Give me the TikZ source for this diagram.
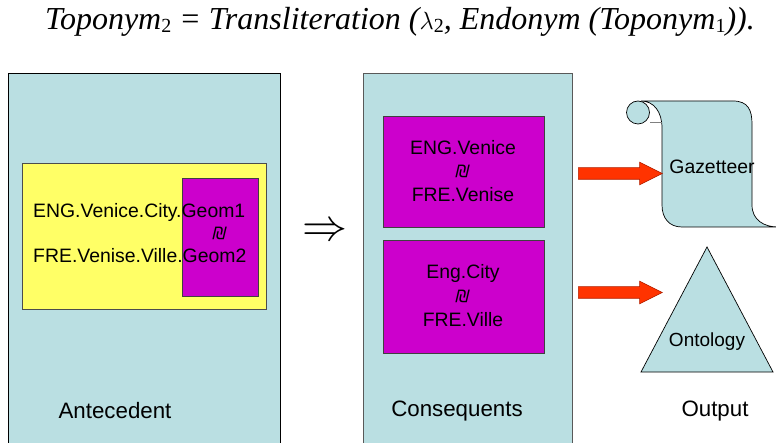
\documentclass[tikz,border=0pt]{standalone}
\usepackage{graphicx}
\usepackage{fontspec}
\setmainfont{Liberation Sans}
\newfontfamily\serifit{Liberation Serif}
\newfontfamily\symfont{DejaVu Sans}
\usetikzlibrary{shapes.arrows}
\definecolor{paneblue}{HTML}{BADFE2}
\definecolor{paneyellow}{HTML}{FFFF66}
\definecolor{panepurple}{HTML}{CC00CC}
\definecolor{arrowred}{HTML}{FF3300}
\definecolor{arrowedge}{HTML}{B02000}
\tikzset{
  panel/.style={draw=black, line width=0.9pt, fill=paneblue, anchor=north west, inner sep=0pt},
  purplebox/.style={draw=black!75, line width=0.8pt, fill=panepurple, anchor=north west, inner sep=0pt},
  label/.style={font=\fontsize{22.3}{25}\selectfont, inner sep=0pt},
  txt/.style={font=\fontsize{19.4}{22}\selectfont, inner sep=0pt},
  equiv/.style={font=\symfont\itshape\fontsize{17}{19}\selectfont, inner sep=0pt},
  blockarrow/.style={single arrow, fill=arrowred, draw=arrowedge, line width=0.6pt,
    minimum height=84pt, inner sep=5.5pt, single arrow head extend=5.5pt,
    single arrow tip angle=53, anchor=west},
}
\begin{document}
\begin{tikzpicture}[x=1pt,y=-1pt]
\useasboundingbox (0,0) rectangle (776,443);
\clip (0,0) rectangle (776,443);

% formula
\node[inner sep=0pt, font=\serifit\itshape\fontsize{32}{36}\selectfont] (formula) at (400,22)
  {Toponym\raisebox{-3pt}{\fontsize{20}{24}\selectfont\upshape 2} = Transliteration
   (\upshape$\lambda$\raisebox{-3pt}{\fontsize{20}{24}\selectfont 2}\itshape, Endonym (Toponym\raisebox{-3pt}{\fontsize{20}{24}\selectfont\upshape 1})).};

% antecedent panel
\node[panel, minimum width=272pt, minimum height=400pt] (ante) at (8,73) {};
\node[draw=black!70, line width=0.8pt, fill=paneyellow, anchor=north west, inner sep=0pt,
      minimum width=244pt, minimum height=146pt] (yel) at (22,163) {};
\node[purplebox, minimum width=76pt, minimum height=118pt] (geom) at (182,178) {};
\node[txt, anchor=west] (l1) at (33,212) {ENG.Venice.City.Geom1};
\node[equiv] (e0) at (220,233) {₪};
\node[txt, anchor=west] (l2) at (33,256) {FRE.Venise.Ville.Geom2};
\node[label] (antelab) at (115,411) {Antecedent};

% implication
\node[inner sep=0pt] (impl) at (325,232) {\resizebox{45pt}{!}{$\Rightarrow$}};

% consequents panel
\node[panel, draw=black!65, minimum width=209pt, minimum height=400pt] (cons) at (363,73) {};
\node[purplebox, minimum width=161pt, minimum height=111pt] (c1) at (383,116) {};
\node[txt] (c1a) at (463,148) {ENG.Venice};
\node[equiv] (e1) at (463,171) {₪};
\node[txt] (c1b) at (463,195) {FRE.Venise};
\node[purplebox, minimum width=161pt, minimum height=113pt] (c2) at (383,240) {};
\node[txt] (c2a) at (463,273) {Eng.City};
\node[equiv] (e2) at (463,296) {₪};
\node[txt] (c2b) at (463,320) {FRE.Ville};
\node[label] (conslab) at (457,411) {Consequents};

% gazetteer scroll
\fill[paneblue, draw=black, line width=0.7pt]
  (641,101) -- (733,101) .. controls (748,101) and (752,110) .. (752,124)
  -- (752,205) .. controls (752,220) and (764,227) .. (778,227)
  -- (682,227) .. controls (669,227) and (662,218) .. (662,205)
  -- (662,128) .. controls (662,112) and (654,101) .. (641,101) -- cycle;
\draw[black!50, line width=0.5pt] (650,122) -- (662,122);
\draw[fill=paneblue, draw=black, line width=0.7pt] (638,112.5) circle (11.5);
\node[txt, font=\fontsize{19.4}{22}\selectfont] (gaz) at (712,167) {Gazetteer};

% ontology triangle
\draw[fill=paneblue, draw=black, line width=0.7pt] (707,247) -- (773,372) -- (641,372) -- cycle;
\node[txt, font=\fontsize{19}{22}\selectfont] (onto) at (707,342) {Ontology};
\node[label] (outlab) at (715,411) {Output};

% output arrows
\node[blockarrow] (a1) at (578,173.5) {};
\node[blockarrow] (a2) at (578,292.5) {};
\end{tikzpicture}
\end{document}
